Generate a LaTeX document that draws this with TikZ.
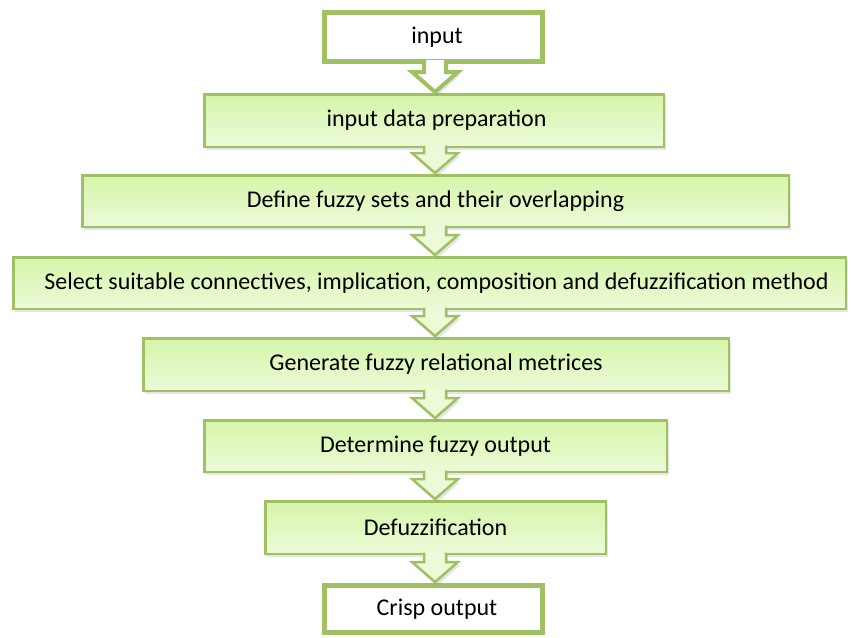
\documentclass[tikz,border=0pt]{standalone}
\usepackage{fontspec}
\setmainfont{Carlito}
\usetikzlibrary{calc,shadows}
\definecolor{olivegr}{RGB}{160,192,100}
\definecolor{gtop}{RGB}{214,245,170}
\definecolor{gbot}{RGB}{236,250,216}
\tikzset{
  boxtext/.style={font=\fontsize{24}{28}\selectfont, text=black, inner sep=0pt},
  greenbox/.style={boxtext, draw=olivegr, line width=2.5pt, shading=axis,
    top color=gtop, bottom color=gbot,
    drop shadow={opacity=0.2, shadow xshift=2pt, shadow yshift=-3pt}},
  whitebox/.style={boxtext, draw=olivegr, line width=5pt, fill=white},
}
\newcommand\flowarrow[4]{% from, to, fill, line width
  \path let \p1=(#1.south), \p2=(#2.north) in
    [fill=#3, drop shadow={opacity=0.2, shadow xshift=2pt, shadow yshift=-3pt}]
    (424pt,\y1+#4) -- (424pt,\y2+21pt) -- (412pt,\y2+21pt) -- (435pt,\y2)
    -- (458pt,\y2+21pt) -- (446pt,\y2+21pt) -- (446pt,\y1+#4) -- cycle;
  \draw[olivegr, line width=#4, line join=miter] let \p1=(#1.south), \p2=(#2.north) in
    (424pt,\y1+#4) -- (424pt,\y2+21pt) -- (412pt,\y2+21pt) -- (435pt,\y2+1pt)
    -- (458pt,\y2+21pt) -- (446pt,\y2+21pt) -- (446pt,\y1+#4);
}
\begin{document}
\begin{tikzpicture}[x=1pt,y=-1pt]
\fill[white] (0,0) rectangle (851,637);
\useasboundingbox (0,0) rectangle (851,637);
\node[whitebox, minimum width=218pt, minimum height=49pt] (in) at (433.5,37) {\hspace*{7pt}input};
\node[greenbox, minimum width=459.5pt, minimum height=52.5pt] (prep) at (434,120.5) {\hspace*{5pt}input data preparation};
\node[greenbox, minimum width=706.5pt, minimum height=51.5pt] (def) at (435.5,201) {Define fuzzy sets and their overlapping};
\node[greenbox, minimum width=832.5pt, minimum height=51.5pt] (sel) at (429.5,283) {\hspace*{14pt}Select suitable connectives, implication, composition and defuzzification method};
\node[greenbox, minimum width=585.5pt, minimum height=52.5pt] (gen) at (436,364.5) {Generate fuzzy relational metrices};
\node[greenbox, minimum width=462.5pt, minimum height=51.5pt] (det) at (435.5,446) {Determine fuzzy output};
\node[greenbox, minimum width=340.5pt, minimum height=52.5pt] (dfz) at (435.5,527.5) {Defuzzification};
\node[whitebox, minimum width=218pt, minimum height=47pt] (out) at (433.5,609) {\hspace*{7pt}Crisp output};
\flowarrow{in}{prep}{white}{4pt}
\flowarrow{prep}{def}{gbot}{2.5pt}
\flowarrow{def}{sel}{gbot}{2.5pt}
\flowarrow{sel}{gen}{gbot}{2.5pt}
\flowarrow{gen}{det}{gbot}{2.5pt}
\flowarrow{det}{dfz}{gbot}{2.5pt}
\flowarrow{dfz}{out}{gbot}{2.5pt}
\end{tikzpicture}
\end{document}
